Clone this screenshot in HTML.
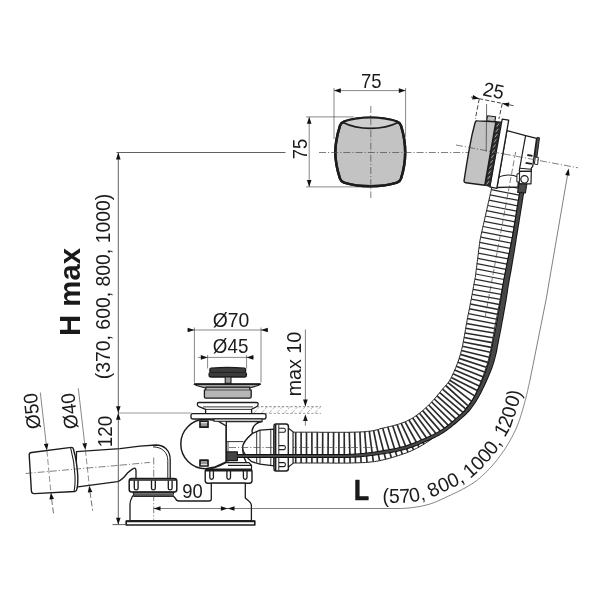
<!DOCTYPE html>
<html lang="en">
<head>
<meta charset="utf-8">
<title>Bath waste and overflow set - dimension drawing</title>
<style>
html,body{margin:0;padding:0;background:#fff;}
body{width:600px;height:600px;overflow:hidden;}
svg{display:block;filter:grayscale(1);}
svg text{font-family:"Liberation Sans",sans-serif;fill:#1a1a1a;}
</style>
</head>
<body>
<svg width="600" height="600" viewBox="0 0 600 600" stroke-linecap="butt" stroke-linejoin="round">
<rect x="0" y="0" width="600" height="600" fill="#ffffff"/>
<polygon points="520.2,188.7 520.0,190.2 519.8,191.6 519.5,193.1 519.3,194.6 519.0,196.1 518.8,197.6 518.5,199.1 518.3,200.5 518.0,202.0 517.8,203.5 517.6,205.0 517.3,206.5 517.1,207.9 516.8,209.4 516.6,210.9 516.3,212.4 516.1,213.9 515.9,215.3 515.6,216.8 515.4,218.3 515.1,219.8 514.9,221.3 514.6,222.7 514.4,224.2 514.1,225.7 513.9,227.2 513.7,228.7 513.4,230.2 513.2,231.6 512.9,233.1 512.7,234.6 512.4,236.1 512.2,237.6 511.9,239.1 511.6,240.5 511.3,242.0 511.0,243.5 510.7,244.9 510.4,246.4 510.2,247.9 509.9,249.4 509.6,250.8 509.3,252.3 509.0,253.8 508.7,255.3 508.4,256.7 508.1,258.2 507.8,259.7 507.5,261.1 507.2,262.6 506.9,264.1 506.6,265.6 506.4,267.0 506.1,268.5 505.8,270.0 505.5,271.4 505.2,272.9 504.9,274.4 504.6,275.8 504.3,277.3 504.0,278.8 503.7,280.2 503.5,281.7 503.2,283.1 502.9,284.6 502.6,286.0 502.3,287.5 502.1,288.9 501.8,290.4 501.5,291.8 501.3,293.3 501.0,294.7 500.8,296.2 500.5,297.7 500.2,299.2 499.9,300.7 499.7,302.2 499.4,303.7 499.1,305.2 498.8,306.7 498.5,308.2 498.2,309.7 497.9,311.2 497.6,312.7 497.3,314.1 497.1,315.6 496.8,317.1 496.5,318.6 496.2,320.0 495.9,321.5 495.6,323.0 495.3,324.4 495.1,325.7 494.8,327.1 494.6,328.6 494.3,330.0 494.1,331.5 493.8,332.9 493.6,334.4 493.3,335.9 493.0,337.4 492.8,338.9 492.5,340.4 492.2,341.9 492.0,343.4 491.7,345.0 491.4,346.5 491.1,348.1 490.8,349.6 490.5,351.2 490.1,352.8 489.8,354.4 489.4,356.0 489.0,357.6 488.6,359.3 488.1,360.9 487.7,362.6 487.2,364.2 486.7,365.8 486.2,367.3 485.7,368.9 485.1,370.5 484.6,372.0 484.0,373.6 483.5,375.2 482.9,376.7 482.3,378.2 481.7,379.8 481.1,381.3 480.4,382.8 479.8,384.4 479.2,385.9 478.5,387.5 477.8,389.0 477.2,390.6 476.4,392.3 475.5,394.1 474.5,395.9 473.5,397.8 472.3,399.6 471.2,401.4 470.0,403.0 468.8,404.5 467.8,405.9 466.9,407.0 466.2,408.0 465.5,409.0 464.7,410.1 463.7,411.3 462.7,412.5 461.7,413.7 460.6,414.9 459.5,416.1 458.4,417.3 457.2,418.5 456.0,419.6 454.8,420.8 453.5,421.9 452.2,423.0 450.9,424.1 449.6,425.2 448.4,426.2 447.1,427.2 445.8,428.2 444.5,429.3 443.2,430.3 441.9,431.3 440.6,432.3 439.3,433.4 438.0,434.4 436.6,435.4 435.3,436.4 433.9,437.4 432.5,438.4 431.1,439.4 429.7,440.4 428.4,441.3 426.9,442.2 425.5,443.2 424.0,444.1 422.5,445.0 421.0,445.9 419.5,446.8 417.9,447.6 416.4,448.4 414.7,449.3 413.1,450.0 411.4,450.8 409.8,451.5 408.1,452.1 406.5,452.8 404.9,453.4 403.3,453.9 401.7,454.5 400.2,455.0 398.6,455.5 397.1,455.9 395.7,456.4 394.2,456.9 392.7,457.3 391.2,457.8 389.6,458.2 388.0,458.7 386.4,459.1 384.7,459.5 383.1,459.9 381.4,460.3 379.6,460.7 377.9,461.0 376.1,461.3 374.4,461.6 372.6,461.8 370.9,462.0 369.1,462.2 367.4,462.3 365.7,462.5 364.1,462.6 362.4,462.6 360.8,462.7 359.2,462.8 357.7,462.8 356.1,462.9 354.6,462.9 353.1,462.9 351.6,463.0 350.1,463.0 348.5,463.0 346.9,463.1 345.4,463.1 343.8,463.1 342.3,463.1 340.7,463.1 339.2,463.1 337.7,463.1 336.2,463.1 334.6,463.1 333.1,463.1 331.6,463.1 330.1,463.0 328.6,463.0 327.1,463.0 325.6,463.0 324.2,463.0 322.7,463.0 321.2,463.0 319.7,463.0 318.2,463.0 316.7,463.0 315.2,463.0 313.7,463.0 312.2,463.0 310.7,463.0 309.2,463.0 307.7,463.0 306.2,463.0 304.7,463.0 303.2,463.0 301.7,463.0 300.2,463.0 298.7,463.0 297.2,463.0 295.7,463.0 294.2,463.0 292.7,463.0 292.7,432.2 294.2,432.2 295.7,432.2 297.2,432.2 298.7,432.2 300.2,432.2 301.7,432.2 303.2,432.2 304.7,432.2 306.2,432.2 307.7,432.2 309.2,432.2 310.7,432.2 312.2,432.2 313.7,432.2 315.2,432.2 316.7,432.2 318.2,432.2 319.7,432.3 321.3,432.3 322.8,432.3 324.3,432.3 325.8,432.3 327.3,432.3 328.8,432.3 330.3,432.3 331.8,432.3 333.3,432.3 334.8,432.3 336.3,432.3 337.8,432.3 339.3,432.3 340.7,432.3 342.2,432.3 343.6,432.3 345.1,432.3 346.5,432.3 348.0,432.3 349.4,432.3 350.9,432.2 352.4,432.2 353.8,432.2 355.3,432.1 356.8,432.1 358.2,432.0 359.6,432.0 361.0,431.9 362.4,431.8 363.7,431.8 365.0,431.7 366.3,431.6 367.6,431.4 368.8,431.3 370.0,431.1 371.2,431.0 372.4,430.7 373.6,430.5 374.8,430.3 376.1,430.0 377.3,429.7 378.6,429.4 379.8,428.8 381.1,428.5 382.5,428.2 383.8,427.9 385.3,427.6 386.7,427.3 388.1,426.9 389.5,426.6 390.8,426.3 392.2,426.0 393.5,425.6 394.8,425.3 396.0,424.9 397.3,424.6 398.5,424.2 399.6,423.8 400.8,423.4 401.9,423.0 403.1,422.6 404.3,422.1 405.4,421.6 406.6,421.1 407.8,420.5 408.9,420.0 410.1,419.4 411.3,418.8 412.5,418.1 413.6,417.4 414.7,416.6 415.9,415.9 417.0,415.1 418.0,414.3 419.1,413.5 420.1,412.7 421.2,411.8 422.3,410.9 423.3,410.0 424.3,409.1 425.4,408.2 426.4,407.2 427.4,406.3 428.4,405.3 429.4,404.3 430.4,403.3 431.3,402.3 432.2,401.3 433.1,400.3 434.1,399.3 435.0,398.2 435.9,397.2 436.8,396.1 437.7,395.0 438.6,393.9 439.5,392.8 440.4,391.7 441.3,390.6 442.3,389.3 443.5,388.0 444.6,386.7 445.6,385.6 446.5,384.6 447.3,383.6 448.0,382.8 448.6,382.0 449.2,381.1 449.7,380.3 450.2,379.4 450.7,378.5 451.3,377.4 451.9,376.2 452.5,375.0 453.1,373.7 453.6,372.5 454.2,371.3 454.7,370.0 455.3,368.7 455.8,367.5 456.3,366.2 456.8,364.9 457.3,363.6 457.8,362.3 458.2,361.1 458.7,359.8 459.1,358.5 459.5,357.2 459.9,355.9 460.3,354.6 460.7,353.3 461.0,352.0 461.4,350.7 461.7,349.4 462.0,348.1 462.3,346.7 462.6,345.4 462.9,344.0 463.1,342.6 463.4,341.2 463.7,339.7 463.9,338.3 464.2,336.9 464.5,335.4 464.7,334.0 465.0,332.5 465.2,331.1 465.5,329.6 465.7,328.1 466.0,326.6 466.2,325.1 466.5,323.6 466.8,322.1 467.1,320.6 467.3,319.0 467.6,317.5 467.9,316.0 468.2,314.5 468.5,313.1 468.8,311.6 469.1,310.1 469.4,308.6 469.7,307.2 470.0,305.7 470.2,304.2 470.5,302.8 470.8,301.3 471.1,299.9 471.4,298.4 471.6,297.0 471.9,295.5 472.2,294.1 472.4,292.6 472.7,291.2 473.0,289.7 473.2,288.2 473.5,286.7 473.8,285.2 474.1,283.7 474.3,282.2 474.6,280.7 474.9,279.2 475.2,277.7 475.5,276.2 475.6,274.7 475.8,273.2 476.0,271.7 476.2,270.2 476.4,268.7 476.6,267.2 476.8,265.7 476.9,264.2 477.1,262.8 477.3,261.3 477.5,259.8 477.7,258.3 477.9,256.8 478.1,255.3 478.3,253.8 478.4,252.3 478.6,250.8 478.8,249.3 479.0,247.8 479.2,246.3 479.4,244.8 479.6,243.4 479.7,241.9 480.0,240.4 480.3,238.9 480.6,237.5 480.9,236.0 481.2,234.5 481.5,233.0 481.8,231.6 482.1,230.1 482.5,228.7 482.8,227.2 483.1,225.7 483.5,224.3 483.8,222.8 484.1,221.4 484.5,219.9 484.8,218.4 485.1,217.0 485.5,215.5 485.8,214.0 486.1,212.6 486.5,211.1 486.8,209.7 487.1,208.2 487.4,206.7 487.8,205.3 488.1,203.8 488.4,202.3 488.8,200.9 489.1,199.4 489.4,198.0 489.8,196.5 490.1,195.0 490.4,193.6 490.8,192.1 491.1,190.6 491.4,189.2 491.8,187.7 492.1,186.2 492.4,184.8 492.8,183.3" fill="#fff" stroke="#1c1c1c" stroke-width="1.0"/>
<g stroke="#2a2a2a"><line x1="519.2" y1="195.1" x2="491.3" y2="189.7" stroke-width="1.20"/><line x1="518.3" y1="200.4" x2="490.1" y2="194.9" stroke-width="1.20"/><line x1="517.4" y1="205.8" x2="488.9" y2="200.2" stroke-width="1.20"/><line x1="516.6" y1="211.1" x2="487.7" y2="205.5" stroke-width="1.20"/><line x1="515.7" y1="216.4" x2="486.5" y2="210.7" stroke-width="1.20"/><line x1="514.8" y1="221.8" x2="485.3" y2="216.0" stroke-width="1.20"/><line x1="513.9" y1="227.1" x2="484.1" y2="221.3" stroke-width="1.20"/><line x1="513.0" y1="232.4" x2="483.0" y2="226.5" stroke-width="1.20"/><line x1="512.1" y1="237.8" x2="481.8" y2="231.8" stroke-width="1.20"/><line x1="511.1" y1="243.1" x2="480.7" y2="237.1" stroke-width="1.20"/><line x1="510.1" y1="248.4" x2="479.7" y2="242.4" stroke-width="1.20"/><line x1="509.0" y1="253.7" x2="479.0" y2="247.7" stroke-width="1.20"/><line x1="508.0" y1="258.9" x2="478.3" y2="253.1" stroke-width="1.20"/><line x1="506.9" y1="264.2" x2="477.7" y2="258.3" stroke-width="1.20"/><line x1="505.9" y1="269.3" x2="477.0" y2="263.6" stroke-width="1.20"/><line x1="504.9" y1="274.5" x2="476.4" y2="268.8" stroke-width="1.20"/><line x1="503.9" y1="279.5" x2="475.7" y2="274.0" stroke-width="1.21"/><line x1="502.9" y1="284.6" x2="474.9" y2="279.2" stroke-width="1.24"/><line x1="502.0" y1="289.5" x2="473.9" y2="284.3" stroke-width="1.27"/><line x1="501.1" y1="294.4" x2="473.0" y2="289.4" stroke-width="1.30"/><line x1="500.2" y1="299.4" x2="472.1" y2="294.3" stroke-width="1.33"/><line x1="499.2" y1="304.5" x2="471.2" y2="299.1" stroke-width="1.36"/><line x1="498.3" y1="309.5" x2="470.3" y2="304.0" stroke-width="1.39"/><line x1="497.3" y1="314.3" x2="469.3" y2="308.8" stroke-width="1.42"/><line x1="496.4" y1="319.1" x2="468.4" y2="313.6" stroke-width="1.44"/><line x1="495.4" y1="323.9" x2="467.5" y2="318.5" stroke-width="1.47"/><line x1="494.6" y1="328.4" x2="466.5" y2="323.4" stroke-width="1.50"/><line x1="493.8" y1="333.1" x2="465.7" y2="328.2" stroke-width="1.53"/><line x1="493.0" y1="337.8" x2="464.9" y2="332.9" stroke-width="1.55"/><line x1="492.1" y1="342.6" x2="464.1" y2="337.5" stroke-width="1.58"/><line x1="491.2" y1="347.4" x2="463.3" y2="342.0" stroke-width="1.60"/><line x1="490.2" y1="352.3" x2="462.4" y2="346.3" stroke-width="1.62"/><line x1="489.1" y1="357.3" x2="461.4" y2="350.5" stroke-width="1.63"/><line x1="487.7" y1="362.4" x2="460.4" y2="354.4" stroke-width="1.64"/><line x1="486.2" y1="367.2" x2="459.1" y2="358.4" stroke-width="1.65"/><line x1="484.6" y1="372.0" x2="457.8" y2="362.3" stroke-width="1.66"/><line x1="482.9" y1="376.7" x2="456.3" y2="366.2" stroke-width="1.67"/><line x1="481.1" y1="381.3" x2="454.7" y2="370.0" stroke-width="1.68"/><line x1="479.2" y1="386.0" x2="453.1" y2="373.8" stroke-width="1.70"/><line x1="477.2" y1="390.6" x2="451.3" y2="377.4" stroke-width="1.70"/><line x1="474.6" y1="395.9" x2="449.7" y2="380.3" stroke-width="1.70"/><line x1="471.3" y1="401.2" x2="448.0" y2="382.7" stroke-width="1.70"/><line x1="467.9" y1="405.7" x2="445.7" y2="385.5" stroke-width="1.70"/><line x1="465.6" y1="408.8" x2="442.5" y2="389.1" stroke-width="1.70"/><line x1="462.9" y1="412.3" x2="439.7" y2="392.6" stroke-width="1.70"/><line x1="459.7" y1="415.9" x2="437.0" y2="395.9" stroke-width="1.70"/><line x1="456.3" y1="419.3" x2="434.3" y2="399.0" stroke-width="1.70"/><line x1="452.6" y1="422.7" x2="431.6" y2="402.0" stroke-width="1.70"/><line x1="448.8" y1="425.9" x2="428.7" y2="405.0" stroke-width="1.70"/><line x1="445.0" y1="428.9" x2="425.7" y2="407.8" stroke-width="1.70"/><line x1="441.1" y1="431.9" x2="422.6" y2="410.6" stroke-width="1.70"/><line x1="437.1" y1="435.0" x2="419.5" y2="413.2" stroke-width="1.70"/><line x1="432.9" y1="438.1" x2="416.2" y2="415.6" stroke-width="1.70"/><line x1="428.6" y1="441.1" x2="412.7" y2="418.0" stroke-width="1.70"/><line x1="424.0" y1="444.1" x2="408.9" y2="420.0" stroke-width="1.70"/><line x1="419.0" y1="447.0" x2="405.1" y2="421.8" stroke-width="1.70"/><line x1="413.6" y1="449.8" x2="401.2" y2="423.3" stroke-width="1.70"/><line x1="408.0" y1="452.2" x2="397.1" y2="424.6" stroke-width="1.65"/><line x1="402.3" y1="454.3" x2="392.7" y2="425.8" stroke-width="1.65"/><line x1="396.8" y1="456.1" x2="387.8" y2="427.0" stroke-width="1.65"/><line x1="391.4" y1="457.7" x2="382.7" y2="428.2" stroke-width="1.65"/><line x1="385.7" y1="459.3" x2="378.0" y2="429.5" stroke-width="1.65"/><line x1="379.6" y1="460.7" x2="373.6" y2="430.5" stroke-width="1.65"/><line x1="373.3" y1="461.7" x2="369.3" y2="431.2" stroke-width="1.65"/><line x1="367.0" y1="462.4" x2="364.7" y2="431.7" stroke-width="1.65"/><line x1="361.1" y1="462.7" x2="359.9" y2="432.0" stroke-width="1.65"/><line x1="355.5" y1="462.9" x2="354.7" y2="432.1" stroke-width="1.65"/><line x1="350.1" y1="463.0" x2="349.3" y2="432.3" stroke-width="1.65"/><line x1="344.4" y1="463.1" x2="344.2" y2="432.3" stroke-width="1.65"/><line x1="338.9" y1="463.1" x2="338.9" y2="432.3" stroke-width="1.65"/><line x1="333.4" y1="463.1" x2="333.6" y2="432.3" stroke-width="1.65"/><line x1="328.0" y1="463.0" x2="328.2" y2="432.3" stroke-width="1.65"/><line x1="322.6" y1="463.0" x2="322.7" y2="432.3" stroke-width="1.65"/><line x1="317.3" y1="463.0" x2="317.3" y2="432.2" stroke-width="1.65"/><line x1="311.9" y1="463.0" x2="311.9" y2="432.2" stroke-width="1.65"/><line x1="306.5" y1="463.0" x2="306.5" y2="432.2" stroke-width="1.65"/><line x1="301.1" y1="463.0" x2="301.1" y2="432.2" stroke-width="1.65"/><line x1="295.7" y1="463.0" x2="295.7" y2="432.2" stroke-width="1.65"/></g>
<line x1="334.00" y1="88.00" x2="334.00" y2="139.00" stroke="#383838" stroke-width="0.60" />
<line x1="405.60" y1="88.00" x2="405.60" y2="137.00" stroke="#383838" stroke-width="0.60" />
<line x1="334.00" y1="90.60" x2="405.60" y2="90.60" stroke="#383838" stroke-width="0.60" />
<polygon points="334.00,90.60 340.80,88.30 340.80,92.90" fill="#111"/>
<polygon points="405.60,90.60 398.80,92.90 398.80,88.30" fill="#111"/>
<line x1="309.20" y1="117.00" x2="309.20" y2="186.70" stroke="#383838" stroke-width="0.60" />
<line x1="306.00" y1="116.90" x2="354.00" y2="116.90" stroke="#383838" stroke-width="0.60" />
<line x1="306.00" y1="186.90" x2="371.00" y2="186.90" stroke="#383838" stroke-width="0.60" />
<polygon points="309.20,116.90 311.50,123.70 306.90,123.70" fill="#111"/>
<polygon points="309.20,186.90 306.90,180.10 311.50,180.10" fill="#111"/>
<path d="M344 121.6 C352 118.9 361 117.7 370.5 117.7 C380 117.7 389 118.9 397 121.6 C399.3 122.4 400.3 123.6 401 125.6 C403.6 134 405.2 143 405.2 152.2 C405.2 161.5 403.6 170.5 401 178.6 C400.3 180.6 399.3 181.8 397 182.6 C389 185.2 380 186.2 370.5 186.2 C361 186.2 352 185.2 344 182.6 C341.7 181.8 340.7 180.6 340 178.6 C337.4 170.5 335.3 161.5 335.3 152.2 C335.3 143 337.4 134 340 125.6 C340.7 123.6 341.7 122.4 344 121.6 Z" fill="#c3c3c3" stroke="#1c1c1c" stroke-width="2.48" />
<path d="M344 121.6 C352 118.9 361 117.7 370.5 117.7 C380 117.7 389 118.9 397 121.6 C399.3 122.4 400.3 123.6 401 125.6 C403.6 134 405.2 143 405.2 152.2 C405.2 161.5 403.6 170.5 401 178.6 C400.3 180.6 399.3 181.8 397 182.6 C389 185.2 380 186.2 370.5 186.2 C361 186.2 352 185.2 344 182.6 C341.7 181.8 340.7 180.6 340 178.6 C337.4 170.5 335.3 161.5 335.3 152.2 C335.3 143 337.4 134 340 125.6 C340.7 123.6 341.7 122.4 344 121.6 Z" fill="none" stroke="#1c1c1c" stroke-width="2.48" />
<path d="M342.5 122.3 C351 119 360 117.7 370.5 117.7 C381 117.7 390 119 398.5 122.3 C390 126.6 381 128.4 370.5 128.4 C360 128.4 351 126.6 342.5 122.3 Z" fill="#cfcfcf" stroke="#1c1c1c" stroke-width="1.62" />
<line x1="370.80" y1="106.00" x2="370.80" y2="198.00" stroke="#4a4a4a" stroke-width="0.70" stroke-dasharray="7 2 1.2 2" />
<line x1="319.00" y1="152.50" x2="487.00" y2="152.50" stroke="#4a4a4a" stroke-width="0.70" stroke-dasharray="7 2 1.2 2" />
<line x1="471.00" y1="97.00" x2="479.00" y2="98.60" stroke="#222" stroke-width="0.80" />
<line x1="479.30" y1="98.70" x2="502.30" y2="103.40" stroke="#222" stroke-width="0.85" stroke-dasharray="4 2" />
<line x1="502.50" y1="103.40" x2="513.50" y2="105.70" stroke="#222" stroke-width="0.80" />
<polygon points="479.30,98.70 472.18,99.60 473.10,95.09" fill="#111"/>
<polygon points="502.30,103.40 509.42,102.50 508.50,107.01" fill="#111"/>
<line x1="479.30" y1="98.70" x2="475.30" y2="119.00" stroke="#222" stroke-width="0.85" stroke-dasharray="4.5 2.2" />
<line x1="502.30" y1="103.40" x2="498.90" y2="119.00" stroke="#222" stroke-width="0.85" stroke-dasharray="4.5 2.2" />
<path d="M506.9 130.6 L525.6 135.6 L536.6 138.3 L532.7 166.3 L531.3 168.2 L531.3 171.3 L519.6 171.3 L518.8 176 L518 187 L497 187.5 Z" fill="#fff" stroke="#1c1c1c" stroke-width="1.30" />
<line x1="525.60" y1="135.60" x2="519.20" y2="171.00" stroke="#1c1c1c" stroke-width="1.20" />
<line x1="520.00" y1="168.30" x2="531.30" y2="169.30" stroke="#1c1c1c" stroke-width="1.10" />
<path d="M537.2 137.3 L539.5 137.8 L536.9 157.4 L534.7 157 Z" fill="#555" stroke="#1c1c1c" stroke-width="0.97" />
<path d="M535.3 157 L538.4 157.5 L537.6 164.6 L534.4 164.1 Z" fill="#fff" stroke="#1c1c1c" stroke-width="0.97" />
<line x1="527.30" y1="155.00" x2="532.50" y2="155.80" stroke="#1c1c1c" stroke-width="1.80" />
<line x1="525.60" y1="162.90" x2="531.90" y2="163.90" stroke="#1c1c1c" stroke-width="1.90" />
<path d="M495.5 180 C498 177 503 175.2 508 175 C512 174.9 515.5 175.8 518 177" fill="none" stroke="#1c1c1c" stroke-width="1.19" />
<path d="M519.6 171.3 L531.3 171.3 L531 183.8 L519.2 183.8 Z" fill="#fff" stroke="#1c1c1c" stroke-width="1.19" />
<path d="M517 173.8 L519.5 173.8 L519.3 181.9 L516.8 181.9 Z" fill="#fff" stroke="#1c1c1c" stroke-width="0.97" />
<circle cx="524.5" cy="179.3" r="3.7" fill="#fff" stroke="#1c1c1c" stroke-width="1.2"/>
<path d="M502.2 119.2 L508.7 120.1 L496.8 188.4 L489.8 186.8 Z" fill="#fff" stroke="#1c1c1c" stroke-width="1.30" />
<path d="M495.9 121.6 L501 122 L490 186.7 L484.8 185.2 Z" fill="#2c2c2c" stroke="#1c1c1c" stroke-width="0.80" />
<g stroke="#ddd" stroke-width="0.7"><line x1="496.7" y1="126.7" x2="499.1" y2="123.5"/><line x1="495.8" y1="131.9" x2="498.2" y2="128.8"/><line x1="494.9" y1="137.2" x2="497.3" y2="134.0"/><line x1="494.0" y1="142.4" x2="496.4" y2="139.2"/><line x1="493.1" y1="147.7" x2="495.5" y2="144.5"/><line x1="492.2" y1="152.9" x2="494.6" y2="149.7"/><line x1="491.2" y1="158.1" x2="493.6" y2="154.9"/><line x1="490.3" y1="163.3" x2="492.7" y2="160.2"/><line x1="489.4" y1="168.6" x2="491.8" y2="165.4"/><line x1="488.5" y1="173.8" x2="490.9" y2="170.6"/><line x1="487.6" y1="179.1" x2="490.0" y2="175.9"/><line x1="486.7" y1="184.3" x2="489.1" y2="181.1"/></g>
<path d="M487.6 115.8 L495.6 116.8 L494.8 122 L486.6 121 Z" fill="#c3c3c3" stroke="#1c1c1c" stroke-width="1.08" />
<path d="M477.3 120.8 L495.9 121.7 L484.8 185.2 L465.8 182.7 C464.4 182.5 463.8 181.6 464.1 180.3 C466 168 467.6 158 469.4 148.3 C471 139 473 130 475.2 122.3 C475.6 121.2 476.2 120.7 477.3 120.8 Z" fill="#c3c3c3" stroke="#1c1c1c" stroke-width="1.40" />
<line x1="486.60" y1="104.00" x2="486.20" y2="151.50" stroke="#333" stroke-width="0.70" />
<line x1="456.00" y1="145.00" x2="578.00" y2="167.80" stroke="#4a4a4a" stroke-width="0.70" stroke-dasharray="7 2 1.2 2" />
<line x1="194.40" y1="327.50" x2="194.40" y2="382.50" stroke="#383838" stroke-width="0.60" />
<line x1="261.00" y1="327.50" x2="261.00" y2="382.50" stroke="#383838" stroke-width="0.60" />
<line x1="187.60" y1="330.00" x2="268.00" y2="330.00" stroke="#383838" stroke-width="0.60" />
<polygon points="194.40,330.00 187.60,332.30 187.60,327.70" fill="#111"/>
<polygon points="261.00,330.00 267.80,327.70 267.80,332.30" fill="#111"/>
<line x1="207.60" y1="355.00" x2="207.60" y2="368.50" stroke="#383838" stroke-width="0.60" />
<line x1="246.60" y1="355.00" x2="246.60" y2="368.50" stroke="#383838" stroke-width="0.60" />
<line x1="198.00" y1="357.40" x2="254.00" y2="357.40" stroke="#383838" stroke-width="0.60" />
<polygon points="207.60,357.40 200.80,359.70 200.80,355.10" fill="#111"/>
<polygon points="246.60,357.40 253.40,355.10 253.40,359.70" fill="#111"/>
<g stroke="#999" stroke-width="0.7" stroke-dasharray="4 1.2"><line x1="254.0" y1="413.0" x2="259.5" y2="407.0"/><line x1="261.6" y1="413.0" x2="267.1" y2="407.0"/><line x1="269.2" y1="413.0" x2="274.7" y2="407.0"/><line x1="276.8" y1="413.0" x2="282.3" y2="407.0"/><line x1="284.4" y1="413.0" x2="289.9" y2="407.0"/><line x1="292.0" y1="413.0" x2="297.5" y2="407.0"/><line x1="299.6" y1="413.0" x2="305.1" y2="407.0"/><line x1="307.2" y1="413.0" x2="312.7" y2="407.0"/><line x1="314.8" y1="413.0" x2="320.3" y2="407.0"/></g>
<line x1="252.50" y1="406.70" x2="321.00" y2="406.70" stroke="#666" stroke-width="0.80" stroke-dasharray="2.4 1.8" />
<line x1="252.50" y1="413.40" x2="321.00" y2="413.40" stroke="#888" stroke-width="0.80" stroke-dasharray="2.4 1.8" />
<line x1="305.40" y1="329.50" x2="305.40" y2="406.00" stroke="#383838" stroke-width="0.65" />
<polygon points="305.40,406.40 303.10,399.60 307.70,399.60" fill="#111"/>
<polygon points="305.40,414.20 307.70,421.00 303.10,421.00" fill="#111"/>
<line x1="305.40" y1="418.00" x2="305.40" y2="425.50" stroke="#383838" stroke-width="0.65" />
<line x1="118.30" y1="413.00" x2="191.50" y2="413.00" stroke="#555" stroke-width="0.60" />
<path d="M211 368.2 C220 367.2 235 367.2 244.5 368.2 C246 368.6 246.2 371.4 244.8 372.2 C247 372.6 247.2 376.3 245 377 L210.5 377 C208.3 376.3 208.5 372.6 210.7 372.2 C209.3 371.4 209.5 368.6 211 368.2 Z" fill="#3c3c3c" stroke="#1c1c1c" stroke-width="1.30" />
<line x1="211.50" y1="372.40" x2="244.00" y2="372.40" stroke="#1a1a1a" stroke-width="0.80" />
<path d="M225.2 377 L231 377 L231 383.3 L225.2 383.3 Z" fill="#9a9a9a" stroke="#1c1c1c" stroke-width="1.08" />
<path d="M194.2 384.2 L260.4 384.2 L258 385.6 L250.4 387.8 L204.4 387.8 L196.6 385.6 Z" fill="#a6a6a6" stroke="#1c1c1c" stroke-width="1.08" />
<line x1="194.00" y1="384.00" x2="260.60" y2="384.00" stroke="#111" stroke-width="1.70" />
<path d="M206 387.2 L249.5 387.2 L250 389.6 L251.2 390 L251.2 396.8 C251.2 397.6 250.6 398.2 249.8 398.2 L205.8 398.2 C205 398.2 204.4 397.6 204.4 396.8 L204.4 390 L205.6 389.6 Z" fill="#b6b6b6" stroke="#1c1c1c" stroke-width="1.30" />
<line x1="205.20" y1="390.00" x2="250.60" y2="390.00" stroke="#333" stroke-width="0.80" />
<path d="M199 402.5 L256.5 402.5 C257.6 402.5 258.2 403.2 258.2 404.2 C258.2 405.5 257.6 406.2 256.5 406.7 L251.6 409.3 L251.6 413.7 L205.6 413.7 L205.6 409.3 L199 406.7 C197.9 406.2 197.3 405.5 197.3 404.2 C197.3 403.2 197.9 402.5 199 402.5 Z" fill="#fff" stroke="#1c1c1c" stroke-width="1.30" />
<line x1="203.00" y1="406.90" x2="253.00" y2="406.90" stroke="#1c1c1c" stroke-width="0.90" />
<line x1="205.60" y1="409.40" x2="251.60" y2="409.40" stroke="#1c1c1c" stroke-width="0.90" />
<path d="M226.2 426 L217 420.4 L205.5 419.3 A24.7 24.7 0 0 0 205.5 468.7 L215 467 L226.2 462 Z" fill="#fff" stroke="#1c1c1c" stroke-width="1.46" />
<path d="M200 421.2 L208 421.2 L208 427.2 L200 427.2 Z" fill="#9a9a9a" stroke="#1c1c1c" stroke-width="1.73" />
<line x1="200.80" y1="422.60" x2="207.20" y2="422.60" stroke="#e0e0e0" stroke-width="1.20" />
<path d="M200 460.2 L208 460.2 L208 466 L200 466 Z" fill="#9a9a9a" stroke="#1c1c1c" stroke-width="1.73" />
<line x1="200.80" y1="464.60" x2="207.20" y2="464.60" stroke="#e0e0e0" stroke-width="1.20" />
<path d="M226.3 421.5 L262 421.5 C256.5 422.6 252.8 425 252 431 L252.5 433.5 C247 438 243 443 242.6 447.5 C242.6 452 244 458 246 461.7 L246 462.6 L226.3 462.6 Z" fill="#fff" stroke="#1c1c1c" stroke-width="1.30" />
<line x1="228.00" y1="441.60" x2="228.00" y2="462.50" stroke="#1c1c1c" stroke-width="0.80" />
<line x1="226.20" y1="441.60" x2="243.50" y2="441.60" stroke="#1c1c1c" stroke-width="0.90" />
<path d="M226.3 462.6 L249 462.6 L251.5 465.5 L251.5 469.5 L209 469.5 C212 468.5 220 466.5 226.3 462.6 Z" fill="#fff" stroke="#1c1c1c" stroke-width="1.19" />
<line x1="228.00" y1="465.40" x2="251.50" y2="465.40" stroke="#1c1c1c" stroke-width="1.20" />
<path d="M252.5 433.4 L260 430.2 L274 429.2 L274 465.8 L260 464.2 L251.7 461.7 C247 458 242.6 452 242.6 447.5 C243 443 247 438 252.5 433.4 Z" fill="#fff" stroke="#1c1c1c" stroke-width="1.30" />
<line x1="256.70" y1="431.60" x2="256.70" y2="462.80" stroke="#1c1c1c" stroke-width="0.90" />
<line x1="260.00" y1="430.20" x2="260.00" y2="464.20" stroke="#1c1c1c" stroke-width="0.90" />
<line x1="270.80" y1="429.40" x2="270.80" y2="465.60" stroke="#1c1c1c" stroke-width="0.90" />
<line x1="229.00" y1="447.50" x2="376.00" y2="447.50" stroke="#4a4a4a" stroke-width="0.70" stroke-dasharray="7 2 1.2 2" />
<path d="M276 424 L286 424 C287.5 424 288.4 425 288.4 426.5 L288.4 468.5 C288.4 470 287.5 471 286 471 L276 471 C274.8 471 274 470.2 274 469 L274 426 C274 424.8 274.8 424 276 424 Z" fill="#fff" stroke="#1c1c1c" stroke-width="1.40" />
<line x1="275.60" y1="424.30" x2="275.60" y2="470.70" stroke="#1c1c1c" stroke-width="1.60" />
<line x1="278.80" y1="424.30" x2="278.80" y2="470.70" stroke="#1c1c1c" stroke-width="0.90" />
<path d="M278.8 428.3 L284 428.3 Q285.4 428.3 285.4 430.3 Q285.4 432.3 284 432.3 L278.8 432.3" fill="none" stroke="#1c1c1c" stroke-width="1.08" />
<path d="M278.8 445.6 L284 445.6 Q285.4 445.6 285.4 447.6 Q285.4 449.6 284 449.6 L278.8 449.6" fill="none" stroke="#1c1c1c" stroke-width="1.08" />
<path d="M278.8 462.6 L284 462.6 Q285.4 462.6 285.4 464.6 Q285.4 466.6 284 466.6 L278.8 466.6" fill="none" stroke="#1c1c1c" stroke-width="1.08" />
<path d="M288.4 428.3 L293 431.8 L293 463.4 L288.4 467 Z" fill="#fff" stroke="#1c1c1c" stroke-width="1.08" />
<path d="M207.5 469.3 L249.8 469.3 C251.2 469.3 252 470.1 252 471.5 L252 480.8 C252 482.3 251 483.2 249.5 483.2 L207.8 483.2 C206.2 483.2 205.2 482.3 205.2 480.8 L205.2 471.5 C205.2 470.1 206 469.3 207.5 469.3 Z" fill="#fff" stroke="#1c1c1c" stroke-width="1.40" />
<line x1="205.60" y1="470.70" x2="251.60" y2="470.70" stroke="#1c1c1c" stroke-width="1.70" />
<path d="M209.8 471 L209.8 477.6 Q209.8 479.3 211.6 479.3 Q213.4 479.3 213.4 477.6 L213.4 471" fill="none" stroke="#1c1c1c" stroke-width="1.30" />
<path d="M226.9 471 L226.9 477.6 Q226.9 479.3 228.7 479.3 Q230.5 479.3 230.5 477.6 L230.5 471" fill="none" stroke="#1c1c1c" stroke-width="1.30" />
<path d="M243.4 471 L243.4 477.6 Q243.4 479.3 245.2 479.3 Q247.0 479.3 247.0 477.6 L247.0 471" fill="none" stroke="#1c1c1c" stroke-width="1.30" />
<path d="M211.3 483.2 L211.3 499 C211.3 500.4 210.5 501 209 501 L179 501 C177 501 176 500 175.5 498.5 L173.3 496 L132.6 496 C131 499 130 501 130 504 L130 520.6 L251.4 520.6 L251.4 505.5 C251.4 502 248 500.5 245.3 498 L245.3 483.2 Z" fill="#fff" stroke="#1c1c1c" stroke-width="1.30" />
<path d="M126.2 521 L254.8 521 L254.8 525 L126.2 525 Z" fill="#fff" stroke="#1c1c1c" stroke-width="1.62" />
<line x1="126.20" y1="521.40" x2="254.80" y2="521.40" stroke="#1c1c1c" stroke-width="1.60" />
<path d="M226.6 451.8 L237.4 451.8 L237.4 460.6 L226.6 460.6 Z" fill="#444" stroke="#1c1c1c" stroke-width="1.19" />
<path d="M193 413.7 L264 413.7 C265.3 413.7 266 414.4 266 415.6 L266 417 C266 418.3 265.3 419 264 419 L193 419 C191.7 419 191 418.3 191 417 L191 415.6 C191 414.4 191.7 413.7 193 413.7 Z" fill="#fff" stroke="#1c1c1c" stroke-width="1.30" />
<path d="M214 419 L262 419 L262 421.2 L214 421.2 Z" fill="#fff" stroke="#1c1c1c" stroke-width="1.08" />
<path d="M76.5 451.6 L120 448.7 L140 446.2 L156 445 C164.5 445 170.2 450.8 170.2 459.5 L170.2 479 L136 479 L136 471 C136 468.2 134.6 467.6 133.2 468.6 C131 470 129 471.5 127.5 473 C124.5 477 121 480.6 117.5 481.6 L76 487.2 Z" fill="#fff" stroke="#1c1c1c" stroke-width="1.30" />
<path d="M153 446.9 C162 446.9 167.8 452.5 167.8 460.5 L167.8 479" fill="none" stroke="#1c1c1c" stroke-width="0.97" />
<path d="M31.6 452.5 L71.2 447.4 C72.4 447.2 73 447.6 73.4 449 C75.4 456 77.2 466 77.8 476 C78 482 77.6 487 76.6 490 C76.2 491 75.6 491.4 74.6 491.5 L34.5 493.6 C32.6 493.7 31.6 492.8 31.4 491 L29.2 455 C29.1 453.5 30 452.7 31.6 452.5 Z" fill="#fff" stroke="#1c1c1c" stroke-width="1.40" />
<path d="M70.6 447.6 C72.6 455 74.6 466 75 476 C75.2 482 75 487 74 491.5" fill="none" stroke="#1c1c1c" stroke-width="1.08" />
<line x1="25.50" y1="473.50" x2="120.00" y2="465.20" stroke="#4a4a4a" stroke-width="0.70" stroke-dasharray="7 2 1.2 2" />
<path d="M120 465.2 L150 462.4" fill="none" stroke="#4a4a4a" stroke-width="0.70" stroke-dasharray="7 2 1.2 2"/>
<line x1="153.70" y1="457.50" x2="153.70" y2="519.50" stroke="#4a4a4a" stroke-width="0.70" stroke-dasharray="7 2 1.2 2" />
<path d="M131.8 478.5 L174.2 478.5 C175.9 478.5 176.8 479.4 176.8 481 L176.8 489.6 C176.8 491.2 175.9 492.1 174.2 492.1 L131.8 492.1 C130.2 492.1 129.2 491.2 129.2 489.6 L129.2 481 C129.2 479.4 130.2 478.5 131.8 478.5 Z" fill="#fff" stroke="#1c1c1c" stroke-width="1.51" />
<line x1="129.60" y1="480.00" x2="176.40" y2="480.00" stroke="#1c1c1c" stroke-width="1.70" />
<path d="M134.3 480.6 L134.3 488.2 Q134.3 489.8 136.2 489.8 Q138.1 489.8 138.1 488.2 L138.1 480.6" fill="none" stroke="#1c1c1c" stroke-width="1.35" />
<path d="M151.5 480.6 L151.5 488.2 Q151.5 489.8 153.4 489.8 Q155.3 489.8 155.3 488.2 L155.3 480.6" fill="none" stroke="#1c1c1c" stroke-width="1.35" />
<path d="M168.3 480.6 L168.3 488.2 Q168.3 489.8 170.2 489.8 Q172.1 489.8 172.1 488.2 L172.1 480.6" fill="none" stroke="#1c1c1c" stroke-width="1.35" />
<path d="M133 492.1 L174 492.1 L172.6 496.2 L134 496.2 Z" fill="#333" stroke="#1c1c1c" stroke-width="0.97" />
<line x1="134.00" y1="493.60" x2="173.00" y2="493.60" stroke="#aaa" stroke-width="0.60" />
<line x1="134.00" y1="495.00" x2="173.00" y2="495.00" stroke="#aaa" stroke-width="0.60" />
<line x1="40.30" y1="392.50" x2="46.20" y2="444.00" stroke="#383838" stroke-width="0.60" />
<polygon points="46.90,450.60 43.85,444.10 48.42,443.58" fill="#111"/>
<polygon points="50.90,492.60 53.95,499.10 49.38,499.62" fill="#111"/>
<line x1="51.60" y1="499.00" x2="53.80" y2="515.50" stroke="#333" stroke-width="0.70" stroke-dasharray="6 2.5" />
<line x1="46.90" y1="450.60" x2="50.90" y2="492.60" stroke="#444" stroke-width="0.60" stroke-dasharray="6 2.5" />
<line x1="78.30" y1="388.30" x2="84.60" y2="443.00" stroke="#383838" stroke-width="0.60" />
<polygon points="85.40,449.90 82.35,443.40 86.92,442.88" fill="#111"/>
<polygon points="89.30,485.60 92.35,492.10 87.78,492.62" fill="#111"/>
<line x1="90.00" y1="492.00" x2="92.60" y2="510.50" stroke="#333" stroke-width="0.70" stroke-dasharray="6 2.5" />
<line x1="85.40" y1="449.90" x2="89.30" y2="485.60" stroke="#444" stroke-width="0.60" stroke-dasharray="6 2.5" />
<polygon points="524.4,191.9 524.1,193.4 523.9,194.9 523.6,196.3 523.4,197.8 523.2,199.3 522.9,200.8 522.7,202.3 522.5,203.7 522.2,205.2 522.0,206.7 521.7,208.2 521.5,209.7 521.3,211.1 521.0,212.6 520.8,214.1 520.6,215.6 520.3,217.1 520.1,218.6 519.8,220.0 519.6,221.5 519.4,223.0 519.1,224.5 518.9,226.0 518.6,227.4 518.4,228.9 518.2,230.4 517.9,231.9 517.7,233.4 517.4,234.9 517.2,236.3 516.9,237.8 516.7,239.3 516.5,240.8 516.3,242.3 516.0,243.8 515.8,245.3 515.5,246.7 515.3,248.2 515.1,249.7 514.8,251.2 514.6,252.7 514.3,254.2 514.1,255.6 513.8,257.1 513.6,258.6 513.3,260.1 513.1,261.6 512.8,263.0 512.6,264.5 512.3,266.0 512.1,267.5 511.8,269.0 511.6,270.4 511.3,271.9 511.0,273.4 510.7,274.9 510.5,276.3 510.2,277.8 509.9,279.3 509.7,280.7 509.4,282.2 509.2,283.7 508.9,285.1 508.7,286.6 508.4,288.1 508.2,289.5 508.0,291.0 507.8,292.5 507.5,294.0 507.3,295.5 507.1,297.0 506.8,298.5 506.6,299.9 506.4,301.4 506.1,302.9 505.8,304.4 505.6,305.9 505.3,307.4 505.1,308.9 504.8,310.3 504.5,311.8 504.3,313.3 504.0,314.8 503.7,316.2 503.5,317.7 503.2,319.2 502.9,320.7 502.6,322.1 502.4,323.6 502.1,325.1 501.8,326.6 501.6,328.1 501.3,329.5 501.0,331.0 500.7,332.5 500.4,334.0 500.1,335.5 499.8,337.0 499.5,338.4 499.2,339.9 499.0,341.3 498.7,342.8 498.4,344.3 498.1,345.7 497.8,347.2 497.6,348.7 497.3,350.2 497.0,351.7 496.7,353.2 496.3,354.7 496.0,356.1 495.6,357.6 495.2,359.1 494.8,360.6 494.4,362.1 493.9,363.6 493.4,365.0 492.9,366.5 492.4,367.9 491.9,369.4 491.3,370.8 490.8,372.2 490.2,373.6 489.6,375.0 489.0,376.4 488.4,377.8 487.8,379.2 487.2,380.6 486.6,382.0 485.9,383.4 485.3,384.7 484.7,386.1 484.0,387.5 483.3,388.8 482.7,390.2 482.0,391.6 481.3,392.9 480.6,394.3 479.9,395.6 479.1,396.9 478.4,398.3 477.6,399.6 476.8,400.9 476.0,402.2 475.2,403.5 474.3,404.8 473.4,406.1 472.5,407.3 471.6,408.6 470.7,409.8 469.7,411.0 468.6,412.2 467.5,413.3 466.4,414.4 465.3,415.5 464.2,416.5 463.0,417.5 461.9,418.5 460.7,419.5 459.6,420.5 458.4,421.4 457.3,422.4 456.2,423.4 455.0,424.4 453.8,425.3 452.7,426.3 451.5,427.3 450.3,428.2 449.1,429.1 447.9,430.1 446.6,431.0 445.4,431.8 444.1,432.7 442.8,433.5 441.5,434.3 440.1,435.1 438.8,435.9 437.4,436.6 436.1,437.3 434.7,438.0 433.3,438.6 431.9,439.3 430.5,439.9 429.2,440.5 427.8,441.1 426.4,441.7 425.0,442.3 423.6,442.9 422.3,443.5 420.9,444.1 419.5,444.7 418.1,445.2 416.7,445.8 415.3,446.4 413.8,446.9 412.4,447.4 411.0,448.0 409.5,448.4 408.1,448.9 406.6,449.4 405.2,449.8 403.7,450.2 402.2,450.6 400.7,451.0 399.2,451.3 397.7,451.7 396.3,452.0 394.8,452.3 393.3,452.6 391.8,452.9 390.3,453.1 388.8,453.4 387.3,453.6 385.8,453.9 384.4,454.1 382.9,454.4 381.4,454.6 379.9,454.8 378.4,455.1 376.9,455.3 375.4,455.5 373.9,455.7 372.4,455.9 370.9,456.1 369.4,456.3 367.9,456.5 366.4,456.6 364.9,456.8 363.4,457.0 361.9,457.1 360.4,457.2 358.9,457.4 357.4,457.5 355.9,457.6 354.4,457.7 352.9,457.8 351.3,457.8 349.8,457.9 348.3,457.9 346.8,458.0 345.3,458.0 343.8,458.0 342.3,458.0 340.8,458.0 339.3,458.0 337.8,458.0 336.3,458.0 334.8,458.0 333.3,458.0 331.8,458.0 330.3,458.0 328.8,458.1 327.3,458.1 325.8,458.1 324.3,458.1 322.8,458.1 321.3,458.1 319.8,458.1 318.3,458.1 316.8,458.1 315.3,458.1 313.8,458.1 312.3,458.1 310.8,458.1 309.3,458.1 307.8,458.1 306.3,458.1 304.8,458.1 303.3,458.1 301.8,458.1 300.3,458.1 298.8,458.1 297.3,458.1 295.8,458.1 294.3,458.1 292.8,458.1 291.3,458.1 289.8,458.1 288.3,458.1 286.8,458.1 285.3,458.1 283.8,458.1 282.3,458.1 280.8,458.1 279.3,458.1 277.8,458.1 276.3,458.1 274.8,458.1 273.3,458.1 271.8,458.1 270.3,458.1 268.8,458.1 267.3,458.1 265.8,458.1 264.3,458.1 262.8,458.1 261.3,458.1 259.8,458.1 258.3,458.1 256.8,458.1 255.3,458.1 253.8,458.1 252.3,458.1 250.8,458.1 249.3,458.1 247.8,458.1 246.3,458.1 244.8,458.1 243.3,458.1 241.8,458.1 240.3,458.1 238.8,458.1 237.3,458.1 237.3,453.9 238.8,453.9 240.3,453.9 241.8,453.9 243.3,453.9 244.8,453.9 246.3,453.9 247.8,453.9 249.3,453.9 250.8,453.9 252.3,453.9 253.8,453.9 255.3,453.9 256.8,453.9 258.3,453.9 259.8,453.9 261.3,453.9 262.8,453.9 264.3,453.9 265.8,453.9 267.3,453.9 268.8,453.9 270.3,453.9 271.8,453.9 273.3,453.9 274.8,453.9 276.3,453.9 277.8,453.9 279.3,453.9 280.8,453.9 282.3,453.9 283.8,453.9 285.3,453.9 286.8,453.9 288.3,453.9 289.8,453.9 291.3,453.9 292.8,453.9 294.3,453.9 295.8,453.9 297.3,453.9 298.8,453.9 300.3,454.0 301.8,454.0 303.3,454.0 304.8,454.0 306.3,454.0 307.8,454.0 309.3,454.0 310.8,454.0 312.3,454.0 313.8,454.0 315.3,454.0 316.8,454.0 318.3,454.0 319.8,454.0 321.3,454.0 322.8,454.0 324.3,454.0 325.8,454.0 327.3,454.0 328.8,454.0 330.3,453.9 331.8,453.9 333.3,453.9 334.8,453.9 336.3,453.9 337.8,453.9 339.3,453.9 340.8,453.9 342.3,453.9 343.7,453.9 345.2,453.9 346.7,453.9 348.2,453.8 349.7,453.8 351.2,453.7 352.7,453.7 354.1,453.6 355.6,453.5 357.1,453.4 358.6,453.3 360.1,453.2 361.5,453.0 363.0,452.9 364.5,452.7 366.0,452.6 367.5,452.4 368.9,452.2 370.4,452.0 371.9,451.9 373.4,451.7 374.9,451.4 376.3,451.2 377.8,451.0 379.3,450.8 380.8,450.6 382.2,450.3 383.7,450.1 385.2,449.8 386.7,449.6 388.1,449.4 389.6,449.1 391.1,448.8 392.5,448.6 394.0,448.3 395.4,448.0 396.9,447.7 398.3,447.3 399.8,447.0 401.2,446.6 402.6,446.3 404.0,445.9 405.4,445.5 406.8,445.0 408.2,444.6 409.6,444.1 411.0,443.6 412.4,443.1 413.8,442.5 415.1,442.0 416.5,441.4 417.9,440.9 419.3,440.3 420.6,439.7 422.0,439.1 423.4,438.5 424.8,437.9 426.1,437.3 427.5,436.7 428.8,436.1 430.2,435.5 431.5,434.9 432.9,434.2 434.2,433.6 435.5,432.9 436.8,432.2 438.1,431.5 439.3,430.8 440.6,430.0 441.8,429.2 443.0,428.4 444.2,427.6 445.4,426.7 446.5,425.8 447.7,424.9 448.8,424.0 450.0,423.0 451.1,422.1 452.3,421.1 453.4,420.2 454.5,419.2 455.6,418.2 456.8,417.2 457.9,416.2 459.0,415.2 460.2,414.3 461.3,413.3 462.3,412.3 463.4,411.3 464.4,410.3 465.3,409.2 466.3,408.1 467.2,407.0 468.1,405.9 468.9,404.7 469.8,403.5 470.6,402.3 471.3,401.1 472.1,399.8 472.8,398.5 473.5,397.3 474.3,396.0 474.9,394.7 475.6,393.4 476.3,392.0 476.9,390.7 477.6,389.4 478.2,388.0 478.8,386.7 479.4,385.3 480.0,384.0 480.6,382.6 481.2,381.3 481.8,379.9 482.3,378.5 482.9,377.1 483.4,375.8 484.0,374.4 484.5,373.0 485.0,371.6 485.5,370.2 486.0,368.8 486.4,367.4 486.9,366.0 487.4,364.6 487.8,363.2 488.2,361.8 488.6,360.4 488.9,359.0 489.3,357.6 489.6,356.2 489.9,354.7 490.2,353.3 490.5,351.9 490.8,350.4 491.1,349.0 491.4,347.5 491.7,346.0 491.9,344.6 492.2,343.1 492.5,341.6 492.8,340.1 493.1,338.7 493.4,337.2 493.7,335.7 494.0,334.2 494.2,332.8 494.5,331.3 494.8,329.8 495.1,328.4 495.4,326.9 495.6,325.4 495.9,324.0 496.2,322.5 496.4,321.0 496.7,319.5 497.0,318.1 497.3,316.6 497.5,315.1 497.8,313.6 498.1,312.2 498.3,310.7 498.6,309.2 498.9,307.8 499.1,306.3 499.4,304.8 499.6,303.3 499.9,301.9 500.1,300.4 500.4,298.9 500.6,297.5 500.9,296.0 501.1,294.5 501.3,293.0 501.5,291.6 501.7,290.1 502.0,288.6 502.2,287.1 502.5,285.6 502.7,284.1 503.0,282.6 503.2,281.1 503.5,279.6 503.7,278.1 504.0,276.7 504.3,275.2 504.5,273.7 504.8,272.2 505.1,270.7 505.4,269.3 505.7,267.8 506.0,266.3 506.3,264.9 506.6,263.4 506.9,261.9 507.2,260.5 507.5,259.0 507.8,257.5 508.1,256.1 508.5,254.6 508.8,253.1 509.1,251.7 509.4,250.2 509.7,248.7 509.9,247.3 510.2,245.8 510.5,244.3 510.8,242.8 511.1,241.4 511.4,239.9 511.7,238.4 512.0,237.0 512.2,235.5 512.5,234.0 512.7,232.5 513.0,231.1 513.2,229.6 513.5,228.1 513.7,226.6 513.9,225.2 514.2,223.7 514.4,222.2 514.7,220.7 514.9,219.2 515.1,217.8 515.4,216.3 515.6,214.8 515.9,213.3 516.1,211.8 516.3,210.4 516.6,208.9 516.8,207.4 517.0,205.9 517.3,204.4 517.5,203.0 517.8,201.5 518.0,200.0 518.2,198.5 518.5,197.0 518.7,195.5 519.0,194.1 519.2,192.6 519.4,191.1" fill="#111"/>
<polygon points="523.4,191.7 523.2,193.2 522.9,194.7 522.7,196.2 522.5,197.7 522.2,199.1 522.0,200.6 521.8,202.1 521.5,203.6 521.3,205.1 521.0,206.6 520.8,208.0 520.6,209.5 520.3,211.0 520.1,212.5 519.9,214.0 519.6,215.4 519.4,216.9 519.1,218.4 518.9,219.9 518.7,221.4 518.4,222.8 518.2,224.3 517.9,225.8 517.7,227.3 517.5,228.8 517.2,230.3 517.0,231.7 516.7,233.2 516.5,234.7 516.2,236.2 516.0,237.7 515.8,239.1 515.5,240.6 515.3,242.1 515.1,243.6 514.8,245.1 514.6,246.6 514.4,248.1 514.1,249.5 513.9,251.0 513.6,252.5 513.4,254.0 513.1,255.5 512.9,256.9 512.6,258.4 512.4,259.9 512.1,261.4 511.9,262.9 511.6,264.3 511.4,265.8 511.1,267.3 510.9,268.8 510.6,270.3 510.4,271.7 510.1,273.2 509.8,274.7 509.5,276.1 509.3,277.6 509.0,279.1 508.7,280.6 508.5,282.0 508.2,283.5 508.0,285.0 507.7,286.4 507.5,287.9 507.3,289.4 507.0,290.9 506.8,292.3 506.6,293.8 506.4,295.3 506.1,296.8 505.9,298.3 505.7,299.8 505.4,301.3 505.2,302.8 504.9,304.2 504.6,305.7 504.4,307.2 504.1,308.7 503.9,310.2 503.6,311.6 503.3,313.1 503.1,314.6 502.8,316.1 502.5,317.6 502.2,319.0 502.0,320.5 501.7,322.0 501.4,323.5 501.2,324.9 500.9,326.4 500.6,327.9 500.4,329.4 500.1,330.8 499.8,332.3 499.5,333.8 499.2,335.3 498.9,336.8 498.6,338.2 498.3,339.7 498.0,341.1 497.7,342.6 497.5,344.1 497.2,345.6 496.9,347.0 496.6,348.5 496.3,350.0 496.0,351.5 495.7,353.0 495.4,354.5 495.1,355.9 494.7,357.4 494.3,358.9 493.9,360.4 493.4,361.8 493.0,363.3 492.5,364.7 492.0,366.2 491.5,367.6 491.0,369.0 490.4,370.5 489.9,371.9 489.3,373.3 488.7,374.7 488.1,376.1 487.6,377.5 486.9,378.8 486.3,380.2 485.7,381.6 485.1,383.0 484.4,384.3 483.8,385.7 483.1,387.1 482.5,388.4 481.8,389.8 481.1,391.1 480.5,392.5 479.8,393.8 479.0,395.2 478.3,396.5 477.6,397.8 476.8,399.1 476.0,400.4 475.2,401.7 474.4,403.0 473.5,404.3 472.7,405.5 471.8,406.8 470.9,408.0 469.9,409.2 468.9,410.4 467.9,411.5 466.9,412.7 465.8,413.7 464.7,414.8 463.5,415.8 462.4,416.8 461.3,417.8 460.1,418.8 459.0,419.7 457.8,420.7 456.7,421.7 455.5,422.7 454.4,423.6 453.2,424.6 452.1,425.6 450.9,426.5 449.7,427.5 448.5,428.4 447.3,429.3 446.1,430.2 444.8,431.1 443.6,431.9 442.3,432.7 441.0,433.5 439.7,434.3 438.3,435.0 437.0,435.7 435.6,436.4 434.3,437.1 432.9,437.8 431.5,438.4 430.2,439.0 428.8,439.6 427.4,440.2 426.0,440.8 424.6,441.4 423.3,442.0 421.9,442.6 420.5,443.2 419.1,443.8 417.7,444.4 416.3,444.9 414.9,445.5 413.5,446.0 412.1,446.5 410.7,447.1 409.2,447.5 407.8,448.0 406.3,448.5 404.9,448.9 403.4,449.3 402.0,449.7 400.5,450.1 399.0,450.4 397.5,450.7 396.1,451.1 394.6,451.4 393.1,451.6 391.6,451.9 390.1,452.2 388.7,452.5 387.2,452.7 385.7,453.0 384.2,453.2 382.7,453.4 381.2,453.7 379.8,453.9 378.3,454.1 376.8,454.4 375.3,454.6 373.8,454.8 372.3,455.0 370.8,455.2 369.3,455.4 367.8,455.5 366.3,455.7 364.8,455.9 363.3,456.0 361.8,456.2 360.3,456.3 358.8,456.4 357.3,456.5 355.8,456.6 354.3,456.7 352.8,456.8 351.3,456.9 349.8,457.0 348.3,457.0 346.8,457.0 345.3,457.1 343.8,457.1 342.3,457.1 340.8,457.1 339.3,457.1 337.8,457.1 336.3,457.1 334.8,457.1 333.3,457.1 331.8,457.1 330.3,457.1 328.8,457.1 327.3,457.1 325.8,457.1 324.3,457.1 322.8,457.1 321.3,457.1 319.8,457.1 318.3,457.1 316.8,457.1 315.3,457.1 313.8,457.1 312.3,457.1 310.8,457.1 309.3,457.1 307.8,457.1 306.3,457.1 304.8,457.1 303.3,457.1 301.8,457.1 300.3,457.1 298.8,457.1 297.3,457.1 295.8,457.1 294.3,457.1 292.8,457.1 291.3,457.1 289.8,457.1 288.3,457.1 286.8,457.1 285.3,457.1 283.8,457.1 282.3,457.1 280.8,457.1 279.3,457.1 277.8,457.1 276.3,457.1 274.8,457.1 273.3,457.1 271.8,457.1 270.3,457.1 268.8,457.1 267.3,457.1 265.8,457.1 264.3,457.1 262.8,457.1 261.3,457.1 259.8,457.1 258.3,457.1 256.8,457.1 255.3,457.1 253.8,457.1 252.3,457.1 250.8,457.1 249.3,457.1 247.8,457.1 246.3,457.1 244.8,457.1 243.3,457.1 241.8,457.1 240.3,457.1 238.8,457.1 237.3,457.1 237.3,454.9 238.8,454.9 240.3,454.9 241.8,454.9 243.3,454.9 244.8,454.9 246.3,454.9 247.8,454.9 249.3,454.9 250.8,454.9 252.3,454.9 253.8,454.9 255.3,454.9 256.8,454.9 258.3,454.9 259.8,454.9 261.3,454.9 262.8,454.9 264.3,454.9 265.8,454.9 267.3,454.9 268.8,454.9 270.3,454.9 271.8,454.9 273.3,454.9 274.8,454.9 276.3,454.9 277.8,454.9 279.3,454.9 280.8,454.9 282.3,454.9 283.8,454.9 285.3,454.9 286.8,454.9 288.3,454.9 289.8,454.9 291.3,454.9 292.8,454.9 294.3,454.9 295.8,454.9 297.3,454.9 298.8,454.9 300.3,454.9 301.8,454.9 303.3,454.9 304.8,454.9 306.3,454.9 307.8,454.9 309.3,454.9 310.8,454.9 312.3,454.9 313.8,454.9 315.3,454.9 316.8,454.9 318.3,454.9 319.8,454.9 321.3,454.9 322.8,454.9 324.3,454.9 325.8,454.9 327.3,454.9 328.8,454.9 330.3,454.9 331.8,454.9 333.3,454.9 334.8,454.9 336.3,454.9 337.8,454.9 339.3,454.9 340.8,454.9 342.3,454.9 343.8,454.9 345.2,454.9 346.7,454.8 348.2,454.8 349.7,454.8 351.2,454.7 352.7,454.6 354.2,454.5 355.7,454.5 357.2,454.3 358.7,454.2 360.1,454.1 361.6,454.0 363.1,453.8 364.6,453.7 366.1,453.5 367.6,453.3 369.1,453.2 370.5,453.0 372.0,452.8 373.5,452.6 375.0,452.4 376.5,452.2 377.9,452.0 379.4,451.7 380.9,451.5 382.4,451.3 383.9,451.0 385.3,450.8 386.8,450.5 388.3,450.3 389.8,450.0 391.2,449.8 392.7,449.5 394.2,449.2 395.6,448.9 397.1,448.6 398.5,448.3 400.0,447.9 401.4,447.6 402.9,447.2 404.3,446.8 405.7,446.4 407.1,445.9 408.5,445.5 409.9,445.0 411.3,444.5 412.7,443.9 414.1,443.4 415.5,442.9 416.9,442.3 418.3,441.7 419.6,441.1 421.0,440.6 422.4,440.0 423.8,439.4 425.1,438.8 426.5,438.2 427.9,437.6 429.2,437.0 430.6,436.3 431.9,435.7 433.3,435.1 434.6,434.4 435.9,433.7 437.2,433.0 438.5,432.3 439.8,431.6 441.1,430.8 442.3,430.0 443.5,429.2 444.7,428.3 445.9,427.5 447.1,426.6 448.3,425.7 449.4,424.7 450.6,423.8 451.7,422.8 452.9,421.9 454.0,420.9 455.1,419.9 456.3,418.9 457.4,417.9 458.5,416.9 459.7,416.0 460.8,415.0 461.9,414.0 463.0,413.0 464.0,412.0 465.1,410.9 466.0,409.8 467.0,408.7 467.9,407.6 468.8,406.4 469.7,405.3 470.5,404.0 471.3,402.8 472.1,401.6 472.9,400.3 473.6,399.0 474.4,397.7 475.1,396.4 475.8,395.1 476.5,393.8 477.1,392.5 477.8,391.1 478.4,389.8 479.0,388.5 479.7,387.1 480.3,385.7 480.9,384.4 481.5,383.0 482.1,381.6 482.6,380.3 483.2,378.9 483.8,377.5 484.3,376.1 484.8,374.7 485.4,373.3 485.9,372.0 486.4,370.6 486.9,369.2 487.3,367.8 487.8,366.3 488.3,364.9 488.7,363.5 489.1,362.1 489.5,360.7 489.8,359.3 490.2,357.8 490.5,356.4 490.8,355.0 491.1,353.5 491.4,352.1 491.7,350.6 492.0,349.1 492.3,347.7 492.6,346.2 492.9,344.7 493.1,343.3 493.4,341.8 493.7,340.3 494.0,338.8 494.3,337.4 494.6,335.9 494.9,334.4 495.2,333.0 495.5,331.5 495.7,330.0 496.0,328.6 496.3,327.1 496.6,325.6 496.8,324.1 497.1,322.7 497.4,321.2 497.7,319.7 497.9,318.2 498.2,316.8 498.5,315.3 498.7,313.8 499.0,312.3 499.3,310.9 499.5,309.4 499.8,307.9 500.1,306.4 500.3,305.0 500.6,303.5 500.8,302.0 501.1,300.5 501.3,299.1 501.6,297.6 501.8,296.1 502.0,294.7 502.2,293.2 502.5,291.7 502.7,290.2 502.9,288.7 503.2,287.2 503.4,285.7 503.6,284.3 503.9,282.8 504.1,281.3 504.4,279.8 504.7,278.3 504.9,276.8 505.2,275.4 505.5,273.9 505.8,272.4 506.0,270.9 506.3,269.4 506.6,268.0 506.9,266.5 507.2,265.0 507.6,263.6 507.9,262.1 508.2,260.6 508.5,259.2 508.8,257.7 509.1,256.2 509.4,254.8 509.7,253.3 510.0,251.8 510.3,250.4 510.6,248.9 510.9,247.4 511.2,246.0 511.5,244.5 511.8,243.0 512.0,241.5 512.3,240.1 512.6,238.6 512.9,237.1 513.2,235.7 513.4,234.2 513.7,232.7 513.9,231.2 514.2,229.7 514.4,228.3 514.6,226.8 514.9,225.3 515.1,223.8 515.4,222.4 515.6,220.9 515.8,219.4 516.1,217.9 516.3,216.4 516.6,215.0 516.8,213.5 517.0,212.0 517.3,210.5 517.5,209.0 517.7,207.5 518.0,206.1 518.2,204.6 518.5,203.1 518.7,201.6 518.9,200.1 519.2,198.7 519.4,197.2 519.6,195.7 519.9,194.2 520.1,192.7 520.4,191.3" fill="#464646"/>
<line x1="515.60" y1="152.00" x2="485.00" y2="318.00" stroke="#4a4a4a" stroke-width="0.70" stroke-dasharray="6 2.5" />
<path d="M518.9 183.8 L526.8 184.2 L525.4 193 L517.6 192.4 Z" fill="#4a4a4a" stroke="#1c1c1c" stroke-width="1.08" />
<line x1="116.50" y1="152.50" x2="285.50" y2="152.50" stroke="#383838" stroke-width="0.80" />
<line x1="118.30" y1="153.00" x2="118.30" y2="524.50" stroke="#383838" stroke-width="0.80" />
<polygon points="118.30,152.60 120.60,159.40 116.00,159.40" fill="#111"/>
<polygon points="118.30,413.00 116.00,406.20 120.60,406.20" fill="#111"/>
<polygon points="118.30,413.00 120.60,419.80 116.00,419.80" fill="#111"/>
<polygon points="118.30,524.60 116.00,517.80 120.60,517.80" fill="#111"/>
<line x1="112.50" y1="524.60" x2="128.00" y2="524.60" stroke="#383838" stroke-width="0.80" />
<path d="M153.7 508.5 L397.0 508.5 L398.9 508.5 L400.7 508.5 L402.5 508.4 L404.3 508.3 L406.0 508.2 L407.8 508.1 L409.5 507.9 L411.2 507.7 L412.8 507.5 L414.5 507.3 L416.1 507.1 L417.7 506.8 L419.2 506.6 L420.7 506.3 L422.2 506.0 L423.7 505.6 L425.2 505.3 L426.6 504.9 L428.0 504.6 L429.3 504.2 L430.6 503.8 L431.9 503.3 L433.2 502.9 L434.4 502.4 L435.6 502.0 L436.7 501.5 L437.9 501.0 L438.9 500.5 L440.0 500.0 L441.5 499.3 L443.1 498.6 L444.6 497.9 L446.0 497.2 L447.5 496.5 L448.9 495.9 L450.4 495.2 L451.8 494.6 L453.1 493.9 L454.5 493.3 L455.9 492.6 L457.2 492.0 L458.5 491.3 L459.8 490.7 L461.1 490.1 L462.3 489.4 L463.6 488.7 L464.8 488.1 L466.0 487.4 L467.2 486.7 L468.4 486.0 L469.6 485.3 L470.8 484.6 L471.9 483.9 L473.1 483.2 L474.2 482.4 L475.3 481.6 L476.4 480.8 L477.5 480.0 L478.6 479.1 L479.6 478.1 L480.7 477.2 L481.7 476.3 L482.7 475.3 L483.7 474.4 L484.7 473.5 L485.6 472.5 L486.6 471.6 L487.5 470.7 L488.4 469.7 L489.3 468.8 L490.2 467.9 L491.1 466.9 L491.9 466.0 L492.8 465.0 L493.6 464.1 L494.4 463.1 L495.2 462.2 L496.0 461.2 L496.8 460.3 L497.5 459.3 L498.3 458.3 L499.0 457.4 L499.7 456.4 L500.4 455.4 L501.1 454.5 L501.8 453.5 L502.5 452.5 L503.1 451.7 L503.6 450.9 L504.2 450.2 L504.7 449.4 L505.2 448.6 L505.7 447.8 L506.2 447.0 L506.7 446.2 L507.2 445.4 L507.7 444.6 L508.2 443.8 L508.6 443.0 L509.1 442.2 L509.5 441.5 L510.0 440.7 L510.4 439.9 L510.8 439.1 L511.2 438.3 L511.7 437.5 L512.1 436.8 L512.5 436.0 L512.9 435.2 L513.3 434.5 L513.6 433.7 L514.0 432.9 L514.4 432.2 L514.8 431.5 L515.1 430.7 L515.5 430.0 L515.9 429.1 L516.3 428.1 L516.7 427.2 L517.1 426.3 L517.4 425.4 L517.8 424.4 L518.1 423.5 L518.5 422.6 L518.8 421.7 L519.1 420.8 L519.5 419.9 L519.8 419.0 L520.1 418.1 L520.4 417.2 L520.6 416.3 L520.9 415.4 L521.2 414.6 L521.5 413.7 L521.7 412.9 L522.0 412.0 L522.2 411.2 L522.5 410.4 L522.7 409.6 L522.9 408.8 L523.1 408.0 L523.4 407.2 L523.6 406.5 L523.8 405.7 L524.0 405.0 L524.3 404.1 L524.5 403.2 L524.7 402.3 L525.0 401.4 L525.2 400.5 L525.4 399.6 L525.7 398.8 L525.9 397.9 L526.1 397.1 L526.3 396.2 L526.5 395.4 L526.7 394.6 L526.9 393.7 L527.1 392.9 L527.3 392.1 L527.5 391.3 L527.7 390.4 L527.9 389.6 L528.0 388.8 L528.2 387.9 L528.4 387.1 L528.6 386.2 L528.8 385.4 L529.0 384.5 L529.2 383.6 L529.4 382.7 L529.6 381.8 L529.8 380.9 L530.0 380.0 L535.0 355.0 L540.0 330.0 L546.0 300.0 L568.4 170.0" fill="none" stroke="#333" stroke-width="0.62" />
<polygon points="153.70,508.50 160.50,506.20 160.50,510.80" fill="#111"/>
<polygon points="227.70,508.50 220.90,510.80 220.90,506.20" fill="#111"/>
<polygon points="227.70,508.50 234.50,506.20 234.50,510.80" fill="#111"/>
<polygon points="568.60,168.60 569.72,175.69 565.19,174.92" fill="#111"/>
<path id="lcurve" d="M375.0 502.9 L397.0 502.9 L398.8 502.9 L400.5 502.9 L402.3 502.8 L404.0 502.7 L405.7 502.6 L407.3 502.5 L408.9 502.3 L410.6 502.2 L412.1 502.0 L413.7 501.8 L415.2 501.6 L416.7 501.3 L418.2 501.1 L419.7 500.8 L421.1 500.5 L422.5 500.2 L423.8 499.9 L425.1 499.5 L426.4 499.2 L427.7 498.8 L428.9 498.4 L430.1 498.0 L431.3 497.6 L432.4 497.2 L433.5 496.8 L434.6 496.3 L435.6 495.9 L436.6 495.4 L437.6 494.9 L439.2 494.2 L440.7 493.5 L442.2 492.8 L443.7 492.1 L445.2 491.4 L446.6 490.8 L448.0 490.1 L449.4 489.5 L450.8 488.8 L452.1 488.2 L453.4 487.6 L454.7 486.9 L456.0 486.3 L457.3 485.7 L458.5 485.1 L459.8 484.4 L461.0 483.8 L462.1 483.2 L463.3 482.5 L464.5 481.9 L465.6 481.2 L466.7 480.5 L467.8 479.9 L468.9 479.2 L470.0 478.5 L471.0 477.8 L472.1 477.0 L473.1 476.3 L474.0 475.6 L474.9 474.8 L475.9 473.9 L476.9 473.0 L477.9 472.1 L478.9 471.2 L479.9 470.3 L480.8 469.4 L481.7 468.5 L482.6 467.6 L483.5 466.7 L484.4 465.8 L485.3 464.9 L486.1 464.0 L486.9 463.1 L487.8 462.2 L488.6 461.3 L489.3 460.4 L490.1 459.5 L490.9 458.6 L491.6 457.7 L492.4 456.8 L493.1 455.8 L493.8 454.9 L494.5 454.0 L495.2 453.1 L495.9 452.1 L496.6 451.2 L497.2 450.3 L497.9 449.3 L498.5 448.5 L499.0 447.7 L499.5 447.0 L500.0 446.3 L500.5 445.5 L501.0 444.8 L501.5 444.0 L502.0 443.3 L502.4 442.5 L502.9 441.8 L503.3 441.0 L503.8 440.2 L504.2 439.5 L504.6 438.7 L505.1 438.0 L505.5 437.2 L505.9 436.4 L506.3 435.7 L506.7 434.9 L507.1 434.2 L507.5 433.4 L507.9 432.7 L508.3 431.9 L508.6 431.2 L509.0 430.4 L509.4 429.7 L509.8 429.0 L510.1 428.2 L510.4 427.6 L510.8 426.8 L511.1 426.0 L511.5 425.1 L511.9 424.2 L512.2 423.3 L512.6 422.4 L512.9 421.5 L513.2 420.7 L513.6 419.8 L513.9 418.9 L514.2 418.0 L514.5 417.2 L514.8 416.3 L515.0 415.5 L515.3 414.6 L515.6 413.8 L515.8 412.9 L516.1 412.1 L516.4 411.3 L516.6 410.4 L516.8 409.6 L517.1 408.8 L517.3 408.0 L517.5 407.2 L517.8 406.5 L518.0 405.7 L518.2 404.9 L518.4 404.2 L518.6 403.5 L518.9 402.6 L519.1 401.7 L519.3 400.8 L519.6 399.9 L519.8 399.1 L520.0 398.2 L520.2 397.4 L520.4 396.6 L520.6 395.7 L520.9 394.9 L521.1 394.1 L521.3 393.3 L521.4 392.4 L521.6 391.6 L521.8 390.8 L522.0 390.0 L522.2 389.2 L522.4 388.4 L522.6 387.5 L522.8 386.7 L523.0 385.9 L523.2 385.0 L523.3 384.1 L523.5 383.3 L523.7 382.4 L523.9 381.5 L524.1 380.6 L524.3 379.7 L524.5 378.9 L529.5 353.9 L534.5 328.9 L540.5 299.0 L562.9 169.0" fill="none" stroke="none"/>
<text x="371.30" y="87.70" font-size="19.8" text-anchor="middle" font-weight="normal" textLength="20.5" lengthAdjust="spacingAndGlyphs" >75</text>
<text x="306.90" y="149.00" font-size="19.8" text-anchor="middle" font-weight="normal" transform="rotate(-90.00 306.90 149.00)" textLength="20.5" lengthAdjust="spacingAndGlyphs" >75</text>
<text x="492.20" y="97.30" font-size="19.8" text-anchor="middle" font-weight="normal" transform="rotate(11.50 492.20 97.30)" textLength="21.0" lengthAdjust="spacingAndGlyphs" >25</text>
<text x="231.00" y="326.50" font-size="19.8" text-anchor="middle" font-weight="normal" textLength="36.5" lengthAdjust="spacingAndGlyphs" >Ø70</text>
<text x="230.60" y="353.10" font-size="19.8" text-anchor="middle" font-weight="normal" textLength="35.5" lengthAdjust="spacingAndGlyphs" >Ø45</text>
<text x="300.70" y="364.00" font-size="19.8" text-anchor="middle" font-weight="normal" transform="rotate(-90.00 300.70 364.00)" textLength="64.5" lengthAdjust="spacingAndGlyphs" >max 10</text>
<text x="112.40" y="431.50" font-size="19.8" text-anchor="middle" font-weight="normal" transform="rotate(-90.00 112.40 431.50)" textLength="31.5" lengthAdjust="spacingAndGlyphs" >120</text>
<text x="192.50" y="497.80" font-size="19.8" text-anchor="middle" font-weight="normal" textLength="20.5" lengthAdjust="spacingAndGlyphs" >90</text>
<text x="40.80" y="428.30" font-size="19.8" text-anchor="start" font-weight="normal" transform="rotate(-96.50 40.80 428.30)" textLength="36.0" lengthAdjust="spacingAndGlyphs" >Ø50</text>
<text x="78.30" y="428.30" font-size="19.8" text-anchor="start" font-weight="normal" transform="rotate(-96.50 78.30 428.30)" textLength="36.0" lengthAdjust="spacingAndGlyphs" >Ø40</text>
<text x="80.00" y="292.00" font-size="29.0" text-anchor="middle" font-weight="bold" transform="rotate(-90.00 80.00 292.00)" textLength="88.0" lengthAdjust="spacingAndGlyphs" >H max</text>
<text x="110.10" y="286.50" font-size="19.8" text-anchor="middle" font-weight="normal" transform="rotate(-90.00 110.10 286.50)" textLength="185.5" lengthAdjust="spacingAndGlyphs" >(370, 600, 800, 1000)</text>
<text x="354.00" y="500.00" font-size="29.0" text-anchor="start" font-weight="bold" textLength="15.0" lengthAdjust="spacingAndGlyphs" stroke="#1a1a1a" stroke-width="0.7">L</text>
<text font-size="19.8" textLength="196" lengthAdjust="spacingAndGlyphs"><textPath href="#lcurve" startOffset="7.5">(570, 800, 1000, 1200)</textPath></text>
</svg>
</body>
</html>
